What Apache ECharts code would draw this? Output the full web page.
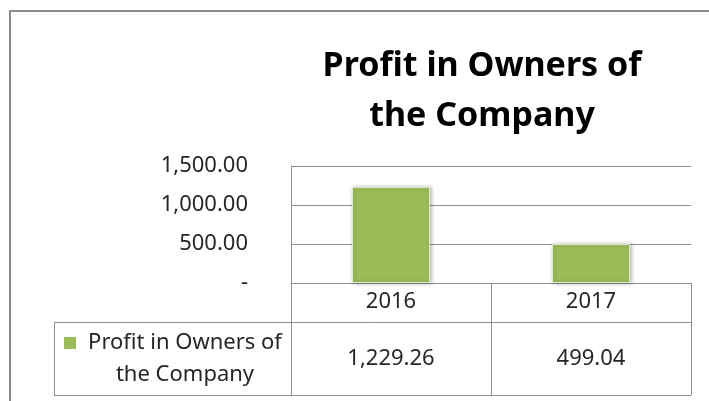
<!DOCTYPE html>
<html>
<head>
<meta charset="utf-8">
<script src="https://cdn.jsdelivr.net/npm/echarts@6/dist/echarts.min.js"></script>
<style>
  html, body { margin: 0; background: #fff; }
  #chart { width: 709px; height: 401px; }
</style>
</head>
<body>
<div id="chart"></div>
<script>
// data
const years = ['2016', '2017']
const profit = [1229.26, 499.04]
const seriesName = 'Profit in Owners of the Company'
const yTicks = [0, 500, 1000, 1500]

const FONT = '"Noto Sans", sans-serif'
const LINE = '#8f8f8f'
const GREEN = '#9BBB59'
const TEXT = '#262626'

// accounting-style number, zero shown as a dash
const fmt = (v) => v === 0 ? '-' : v.toLocaleString('en-US', { minimumFractionDigits: 2, maximumFractionDigits: 2 })

// layout of plot + data table
const L = { left: 291, right: 691, top: 166, base: 283, head: 322, bottom: 395, tableLeft: 54 }

const myChart = echarts.init(document.getElementById('chart'))

myChart.setOption({
  backgroundColor: '#fff',
  animation: false,
  title: {
    text: 'Profit in Owners of\nthe Company',
    left: 477,
    top: 36,
    textAlign: 'center',
    textStyle: { fontFamily: FONT, fontSize: 34, fontWeight: 'bold', color: '#000', lineHeight: 50 },
  },
  grid: { left: L.left, right: 709 - L.right, top: L.top, bottom: 401 - L.base },
  xAxis: [
    {
      type: 'category',
      data: years,
      axisLine: { lineStyle: { color: LINE } },
      axisTick: { show: true, interval: 0, length: L.bottom - L.base, lineStyle: { color: LINE } },
      axisLabel: { margin: 19, verticalAlign: 'middle', fontFamily: FONT, fontSize: 22, color: TEXT },
    },
    {
      // value row of the data table
      type: 'category',
      data: years,
      position: 'bottom',
      axisLine: { show: false },
      axisTick: { show: false },
      axisLabel: {
        margin: 76,
        verticalAlign: 'middle',
        fontFamily: FONT, fontSize: 22, color: TEXT,
        formatter: (val, idx) => fmt(profit[idx]),
      },
    },
  ],
  yAxis: {
    type: 'value',
    min: yTicks[0],
    max: yTicks[yTicks.length - 1],
    interval: yTicks[1] - yTicks[0],
    axisLine: { show: true, lineStyle: { color: LINE } },
    axisTick: { show: false },
    splitLine: { lineStyle: { color: LINE } },
    axisLabel: { margin: 43, fontFamily: FONT, fontSize: 22, color: TEXT, formatter: fmt },
  },
  series: [
    {
      name: seriesName,
      type: 'bar',
      data: profit,
      barWidth: 78,
      itemStyle: {
        color: GREEN,
        borderColor: '#e3ecd0',
        borderWidth: 1,
        shadowBlur: 4,
        shadowOffsetX: 1,
        shadowColor: 'rgba(0,0,0,0.3)',
      },
    },
  ],
  graphic: [
    // outer chart frame
    { type: 'polyline', shape: { points: [[10, 401], [10, 11], [709, 11]] }, style: { stroke: '#8c8c8c', lineWidth: 2, fill: null } },
    // data table lines
    { type: 'line', shape: { x1: L.tableLeft, y1: L.head + 0.5, x2: L.right, y2: L.head + 0.5 }, style: { stroke: LINE, lineWidth: 1 } },
    { type: 'line', shape: { x1: L.tableLeft, y1: L.bottom + 0.5, x2: L.right, y2: L.bottom + 0.5 }, style: { stroke: LINE, lineWidth: 1 } },
    { type: 'line', shape: { x1: L.tableLeft + 0.5, y1: L.head, x2: L.tableLeft + 0.5, y2: L.bottom }, style: { stroke: LINE, lineWidth: 1 } },
    // legend key in table
    { type: 'rect', shape: { x: 64, y: 337, width: 12, height: 12 }, style: { fill: GREEN } },
    {
      type: 'text', x: 185, y: (L.head + L.bottom) / 2,
      style: {
        text: 'Profit in Owners of\nthe Company',
        align: 'center', verticalAlign: 'middle',
        font: '22px ' + FONT, fill: TEXT, lineHeight: 32,
      },
    },
  ],
})
</script>
</body>
</html>
